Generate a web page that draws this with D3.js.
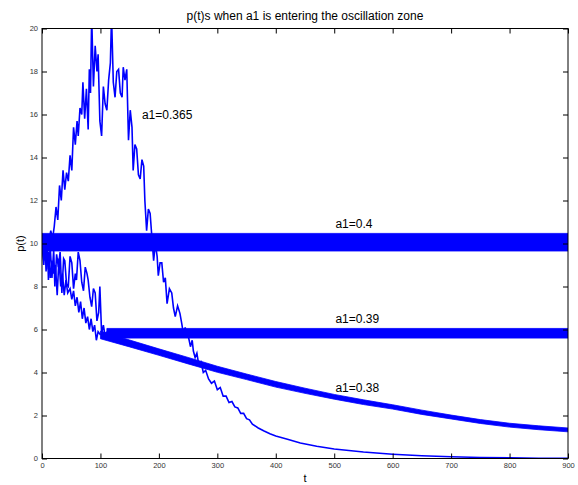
<!DOCTYPE html>
<html>
<head>
<meta charset="utf-8">
<script src="https://cdn.jsdelivr.net/npm/d3@7"></script>
<style>
  html, body { margin: 0; padding: 0; background: #fff; }
  svg { display: block; font-family: "Liberation Sans", Arial, sans-serif; }
</style>
</head>
<body>
<svg id="chart" width="578" height="485"></svg>
<script>
// ---- data ----
const xTicks = [0, 100, 200, 300, 400, 500, 600, 700, 800, 900]
const yTicks = [0, 2, 4, 6, 8, 10, 12, 14, 16, 18, 20]

// a1 = 0.365 : big noisy excursion then decay
const t365 = [0, 3, 6, 9, 12, 15, 18, 21, 24, 27, 30, 33, 36, 39, 42, 45, 48, 51, 54, 57,
  60, 62, 65, 68, 70, 73, 76, 79, 81, 83, 85, 88, 91, 94, 96, 99, 102, 105, 108, 111,
  114, 117, 119, 122, 125, 128, 131, 134, 137, 139, 142, 145, 148, 151, 154, 156, 159, 162, 165, 168,
  171, 174, 176, 179, 182, 185, 188, 191, 194, 197, 199, 202, 205, 208, 211, 214, 218, 222, 225, 228,
  232, 236, 239, 242, 245, 248, 251, 254, 257, 259, 262, 265, 268, 272, 276, 280, 285, 290, 295, 300,
  305, 310, 315, 320, 325, 330, 335, 340, 345, 350, 355, 360, 370, 380, 390, 400, 420, 442, 470, 500,
  550, 600, 650, 700, 750, 800, 850, 900]
const p365 = [10.0, 10.3, 9.9, 10.4, 10.1, 10.6, 10.2, 10.8, 11.7, 11.1, 12.7, 12.0, 13.4, 12.5, 13.3, 12.9, 14.1, 13.4, 15.4, 14.6,
  15.7, 15.0, 16.3, 16.0, 17.5, 15.8, 17.2, 15.3, 18.1, 17.0, 20.6, 17.3, 19.2, 18.0, 18.8, 15.7, 15.0, 17.3, 16.5, 16.2,
  17.6, 18.4, 20.6, 17.5, 16.8, 18.0, 18.1, 17.0, 16.8, 18.2, 17.6, 18.1, 14.8, 16.2, 15.4, 13.4, 14.6, 14.4, 13.2, 13.0,
  13.9, 13.6, 12.0, 10.6, 11.6, 11.4, 10.3, 9.2, 10.0, 9.4, 8.5, 9.1, 9.1, 8.2, 8.4, 7.2, 7.9, 7.7, 7.0, 6.6,
  7.1, 6.75, 6.3, 5.8, 6.1, 5.7, 5.6, 5.2, 5.5, 5.0, 4.7, 4.9, 4.4, 4.5, 4.0, 4.1, 3.7, 3.5, 3.6, 3.2,
  3.3, 2.9, 2.9, 2.6, 2.65, 2.4, 2.35, 2.1, 2.1, 1.85, 1.8, 1.6, 1.42, 1.28, 1.15, 1.05, 0.9, 0.72, 0.57, 0.44,
  0.3, 0.2, 0.13, 0.08, 0.05, 0.03, 0.015, 0.01]

// a1 = 0.39 : noisy fall before it settles into its band
const t39 = [0, 3, 5, 7, 9, 11, 14, 17, 20, 22, 25, 28, 31, 34, 37, 39, 42, 45, 48, 51,
  54, 57, 59, 62, 65, 68, 71, 74, 77, 79, 82, 85, 88, 91, 94, 97, 99, 102, 105, 108, 111]
const p39 = [10.0, 9.2, 10.2, 8.7, 10.3, 8.3, 9.9, 8.4, 9.7, 8.0, 9.5, 8.9, 9.6, 7.7, 9.3, 9.2, 8.1, 8.0, 9.4, 9.1,
  7.9, 8.6, 8.3, 9.6, 9.2, 8.2, 7.8, 8.9, 8.6, 8.3, 7.5, 7.06, 7.9, 7.7, 6.4, 6.8, 8.0, 5.8, 6.2, 5.7, 5.9]

// a1 = 0.38 : noisy fall before its slowly decaying band
const t38 = [0, 3, 6, 8, 11, 14, 17, 20, 23, 26, 29, 32, 35, 38, 41, 44, 48, 51, 54, 57,
  60, 63, 66, 69, 72, 75, 78, 81, 84, 87, 90, 93, 96, 100]
const p38 = [10.0, 9.0, 10.1, 8.8, 9.6, 8.4, 9.2, 8.6, 9.0, 7.6, 9.3, 8.0, 8.6, 7.6, 8.3, 7.7, 7.9, 7.4, 7.8, 7.1,
  7.5, 6.8, 7.3, 6.5, 7.0, 6.3, 6.6, 6.0, 6.5, 5.9, 6.2, 5.5, 5.9, 5.75]

// oscillation bands (lower / upper envelope)
const band40T = [0, 900]
const band40Lo = [9.65, 9.65]
const band40Hi = [10.47, 10.47]

const band39T = [111, 900]
const band39Lo = [5.6, 5.6]
const band39Hi = [6.05, 6.05]

const band38T = [100, 150, 200, 250, 300, 350, 400, 450, 500, 550, 600, 650, 700, 750, 800, 850, 900]
const band38Lo = [5.57, 5.19, 4.8, 4.4, 4.01, 3.67, 3.32, 3.03, 2.76, 2.51, 2.3, 2.05, 1.84, 1.63, 1.46, 1.34, 1.24]
const band38Hi = [5.93, 5.51, 5.1, 4.7, 4.29, 3.93, 3.58, 3.27, 2.98, 2.73, 2.5, 2.25, 2.02, 1.81, 1.64, 1.52, 1.42]

// curve labels
const labelText = ['a1=0.365', 'a1=0.4', 'a1=0.39', 'a1=0.38']
const labelT = [171, 502, 502, 502]
const labelP = [15.97, 10.9, 6.49, 3.29]

// ---- layout ----
const W = 578, H = 485
const margin = { top: 28.5, right: 10, bottom: 26.5, left: 42 }
const iw = W - margin.left - margin.right
const ih = H - margin.top - margin.bottom
const BLUE = '#0000ff'

const svg = d3.select('#chart')

const x = d3.scaleLinear().domain([0, 900]).range([0, iw])
const y = d3.scaleLinear().domain([0, 20]).range([ih, 0])

const g = svg.append('g').attr('transform', `translate(${margin.left},${margin.top})`)

g.append('clipPath').attr('id', 'clip')
  .append('rect').attr('width', iw).attr('height', ih)

const plot = g.append('g').attr('clip-path', 'url(#clip)')

// bands
const zipBand = (ts, lo, hi) => ts.map((t, i) => ({ t, lo: lo[i], hi: hi[i] }))
const area = d3.area()
  .x(d => x(d.t))
  .y0(d => y(d.lo))
  .y1(d => y(d.hi))

;[zipBand(band40T, band40Lo, band40Hi),
  zipBand(band39T, band39Lo, band39Hi),
  zipBand(band38T, band38Lo, band38Hi)].forEach(b => {
  plot.append('path')
    .datum(b)
    .attr('d', area)
    .attr('fill', BLUE)
    .attr('stroke', BLUE)
    .attr('stroke-width', 0.8)
})

// noisy lines
const zip = (ts, ps) => ts.map((t, i) => ({ t, p: ps[i] }))
const line = d3.line().x(d => x(d.t)).y(d => y(d.p))

;[zip(t38, p38), zip(t39, p39), zip(t365, p365)].forEach(s => {
  plot.append('path')
    .datum(s)
    .attr('d', line)
    .attr('fill', 'none')
    .attr('stroke', BLUE)
    .attr('stroke-width', 1.6)
    .attr('stroke-linejoin', 'miter')
})

// axes — matlab style, ticks pointing inward on all four sides
const axisB = d3.axisBottom(x).tickValues(xTicks).tickSize(-5).tickSizeOuter(0).tickPadding(4)
const axisT = d3.axisTop(x).tickValues(xTicks).tickSize(-5).tickSizeOuter(0).tickFormat('')
const axisL = d3.axisLeft(y).tickValues(yTicks).tickSize(-5).tickSizeOuter(0).tickPadding(4)
const axisR = d3.axisRight(y).tickValues(yTicks).tickSize(-5).tickSizeOuter(0).tickFormat('')

const styleAxis = sel => {
  sel.select('.domain').remove()
  sel.selectAll('line').attr('stroke', '#000')
  sel.selectAll('text')
    .attr('fill', '#333')
    .style('font-size', '7.5px')
    .style('font-family', '"Liberation Sans", Arial, sans-serif')
}

g.append('g').attr('transform', `translate(0,${ih})`).call(axisB).call(styleAxis)
g.append('g').call(axisT).call(styleAxis)
g.append('g').call(axisL).call(styleAxis)
g.append('g').attr('transform', `translate(${iw},0)`).call(axisR).call(styleAxis)

// frame
g.append('rect')
  .attr('width', iw).attr('height', ih)
  .attr('fill', 'none')
  .attr('stroke', '#000')
  .attr('stroke-width', 1)

// curve labels
g.selectAll('.curve-label')
  .data(labelText)
  .enter()
  .append('text')
  .attr('class', 'curve-label')
  .attr('x', (d, i) => x(labelT[i]))
  .attr('y', (d, i) => y(labelP[i]))
  .attr('dy', '0.35em')
  .attr('fill', '#000')
  .style('font-size', '12px')
  .text(d => d)

// title and axis labels
svg.append('text')
  .attr('x', margin.left + iw / 2)
  .attr('y', 20)
  .attr('text-anchor', 'middle')
  .style('font-size', '12px')
  .text('p(t)s when a1 is entering the oscillation zone')

svg.append('text')
  .attr('x', margin.left + iw / 2)
  .attr('y', 482)
  .attr('text-anchor', 'middle')
  .style('font-size', '11px')
  .text('t')

svg.append('text')
  .attr('transform', `translate(24,${margin.top + ih / 2}) rotate(-90)`)
  .attr('text-anchor', 'middle')
  .style('font-size', '11px')
  .text('p(t)')
</script>
</body>
</html>
